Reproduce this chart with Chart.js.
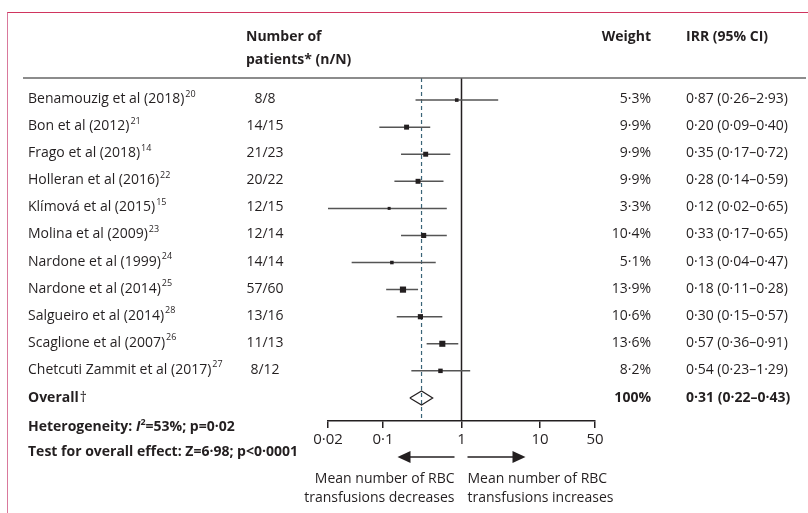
<!DOCTYPE html>
<html>
<head>
<meta charset="utf-8">
<script src="https://cdn.jsdelivr.net/npm/chart.js@4"></script>
<style>
  html, body { margin: 0; padding: 0; background: #fff; }
  #wrap { position: relative; width: 808px; height: 513px; overflow: hidden; }
  #frame { position: absolute; left: 7px; top: 12px; width: 810px; height: 520px;
           border-top: 1.5px solid #d0355f; border-left: 1.5px solid #d9799c; }
  #forest { position: absolute; left: 0; top: 0; }
</style>
</head>
<body>
<div id="wrap">
  <div id="frame"></div>
  <canvas id="forest" width="808" height="513"></canvas>
</div>
<script>
// forest plot: RBC transfusions, incidence rate ratios

const studies = [
  "Benamouzig et al (2018)", "Bon et al (2012)", "Frago et al (2018)", "Holleran et al (2016)",
  "Klímová et al (2015)", "Molina et al (2009)", "Nardone et al (1999)", "Nardone et al (2014)",
  "Salgueiro et al (2014)", "Scaglione et al (2007)", "Chetcuti Zammit et al (2017)"
];
const refs     = ["20", "21", "14", "22", "15", "23", "24", "25", "28", "26", "27"];
const patients = ["8/8", "14/15", "21/23", "20/22", "12/15", "12/14", "14/14", "57/60", "13/16", "11/13", "8/12"];
const weights  = [5.3, 9.9, 9.9, 9.9, 3.3, 10.4, 5.1, 13.9, 10.6, 13.6, 8.2];
const irr      = [0.87, 0.20, 0.35, 0.28, 0.12, 0.33, 0.13, 0.18, 0.30, 0.57, 0.54];
const ciLow    = [0.26, 0.09, 0.17, 0.14, 0.02, 0.17, 0.04, 0.11, 0.15, 0.36, 0.23];
const ciHigh   = [2.93, 0.40, 0.72, 0.59, 0.65, 0.65, 0.47, 0.28, 0.57, 0.91, 1.29];

const overallIrr = 0.31;
const overallLow = 0.22;
const overallHigh = 0.43;

const tickValues = [0.02, 0.1, 1, 10, 50];
const tickLabels = ["0·02", "0·1", "1", "10", "50"];

const FONT = "'Open Sans', Lato, sans-serif";
const INK = "#231f20";
const SIZE = 14;

// lancet style decimal point
const fmt = (v) => v.toFixed(2).replace(".", "·");
const fmtW = (v) => v.toFixed(1).replace(".", "·") + "%";

const overallRow = studies.length;
const ROW_H = 27;

const datasets = [];

// squares, size from weight
datasets.push({
  data: irr.map((v, i) => ({ x: v, y: i })),
  pointStyle: "rect",
  pointRadius: weights.map(w => (2 + 0.3 * w) / 1.414),
  backgroundColor: INK,
  borderWidth: 0,
  showLine: false
});

// pooled diamond
const h = 7 / ROW_H;
datasets.push({
  data: [
    { x: overallLow, y: overallRow }, { x: overallIrr, y: overallRow - h },
    { x: overallHigh, y: overallRow }, { x: overallIrr, y: overallRow + h },
    { x: overallLow, y: overallRow }
  ],
  showLine: true, borderColor: INK, borderWidth: 1.2, pointRadius: 0, fill: false
});

// confidence intervals
studies.forEach((_, i) => {
  datasets.push({
    data: [{ x: ciLow[i], y: i }, { x: ciHigh[i], y: i }],
    showLine: true, borderColor: "#555", borderWidth: 1.5, pointRadius: 0
  });
});

const yMin = -22 / ROW_H;
const yMax = 320 / ROW_H;

// pooled estimate (dashed) and line of no effect
datasets.push({
  data: [{ x: overallIrr, y: yMin }, { x: overallIrr, y: yMax }],
  showLine: true, borderColor: "#3a6478", borderWidth: 1.2, borderDash: [4, 3], pointRadius: 0
});
datasets.push({
  data: [{ x: 1, y: yMin }, { x: 1, y: yMax }],
  showLine: true, borderColor: INK, borderWidth: 1.5, pointRadius: 0
});

function text(ctx, str, x, y, opts = {}) {
  ctx.font = `${opts.style || ""} ${opts.weight || "normal"} ${opts.size || SIZE}px ${FONT}`;
  ctx.textAlign = opts.align || "left";
  ctx.fillStyle = INK;
  ctx.fillText(str, x, y);
  return ctx.measureText(str).width;
}

const tablePlugin = {
  id: "table",
  afterDraw(chart) {
    const ctx = chart.ctx;
    const ys = chart.scales.y;
    const xs = chart.scales.x;
    ctx.save();
    ctx.textBaseline = "middle";

    // header
    text(ctx, "Number of", 246, 37, { weight: "bold" });
    text(ctx, "patients* (n/N)", 246, 60, { weight: "bold" });
    text(ctx, "Weight", 651, 37, { weight: "bold", align: "right" });
    text(ctx, "IRR (95% CI)", 686, 37, { weight: "bold" });

    ctx.strokeStyle = "#666";
    ctx.lineWidth = 1.5;
    ctx.beginPath();
    ctx.moveTo(23, chart.chartArea.top);
    ctx.lineTo(806, chart.chartArea.top);
    ctx.stroke();

    studies.forEach((name, i) => {
      const y = ys.getPixelForValue(i) - 1;
      const w = text(ctx, name, 28, y);
      text(ctx, refs[i], 28 + w + 1, y - 5, { size: 9 });
      text(ctx, patients[i], 265, y, { align: "center" });
      text(ctx, fmtW(weights[i]), 651, y, { align: "right" });
      text(ctx, `${fmt(irr[i])} (${fmt(ciLow[i])}–${fmt(ciHigh[i])})`, 686, y);
    });

    const yo = ys.getPixelForValue(overallRow);
    const wo = text(ctx, "Overall", 28, yo, { weight: "bold" });
    text(ctx, "†", 28 + wo + 1, yo);
    text(ctx, "100%", 651, yo, { weight: "bold", align: "right" });
    text(ctx, `${fmt(overallIrr)} (${fmt(overallLow)}–${fmt(overallHigh)})`, 686, yo, { weight: "bold" });

    // heterogeneity line
    let x = 28;
    const yh = 427;
    x += text(ctx, "Heterogeneity: ", x, yh, { weight: "bold" });
    x += text(ctx, "I", x, yh, { weight: "bold", style: "italic" });
    x += text(ctx, "2", x, yh - 5, { weight: "bold", size: 9 });
    text(ctx, "=53%; p=0·02", x, yh, { weight: "bold" });
    text(ctx, "Test for overall effect: Z=6·98; p<0·0001", 28, 452, { weight: "bold" });

    // direction arrows
    const p1 = xs.getPixelForValue(1);
    const ya = 457;
    ctx.strokeStyle = INK;
    ctx.fillStyle = INK;
    ctx.lineWidth = 1.5;
    [[p1 - 7, p1 - 64], [p1 + 6, p1 + 64]].forEach(([from, tip]) => {
      const dir = Math.sign(tip - from);
      ctx.beginPath();
      ctx.moveTo(from, ya);
      ctx.lineTo(tip - dir * 10, ya);
      ctx.stroke();
      ctx.beginPath();
      ctx.moveTo(tip, ya);
      ctx.lineTo(tip - dir * 13, ya - 6);
      ctx.lineTo(tip - dir * 13, ya + 6);
      ctx.closePath();
      ctx.fill();
    });

    text(ctx, "Mean number of RBC", p1 - 7, 479, { align: "right" });
    text(ctx, "transfusions decreases", p1 - 7, 498, { align: "right" });
    text(ctx, "Mean number of RBC", p1 + 6, 479);
    text(ctx, "transfusions increases", p1 + 6, 498);
    ctx.restore();
  }
};

new Chart(document.getElementById("forest").getContext("2d"), {
  type: "scatter",
  data: { datasets },
  options: {
    responsive: false,
    animation: false,
    layout: { padding: { left: 328, right: 213, top: 78, bottom: 61 } },
    plugins: { legend: { display: false }, tooltip: { enabled: false } },
    scales: {
      x: {
        type: "logarithmic",
        min: 0.02,
        max: 50,
        afterBuildTicks: (s) => { s.ticks = tickValues.map(v => ({ value: v })); },
        ticks: {
          autoSkip: false,
          maxRotation: 0,
          padding: 3,
          color: INK,
          font: { family: FONT, size: SIZE + 1 },
          callback: (v, i) => tickLabels[i]
        },
        grid: { drawOnChartArea: false, drawTicks: true, tickLength: 7, color: INK, lineWidth: 1.5 },
        border: { color: INK, width: 1.5 }
      },
      y: { type: "linear", reverse: true, min: yMin, max: yMax, display: false }
    }
  },
  plugins: [tablePlugin]
});
</script>
</body>
</html>
